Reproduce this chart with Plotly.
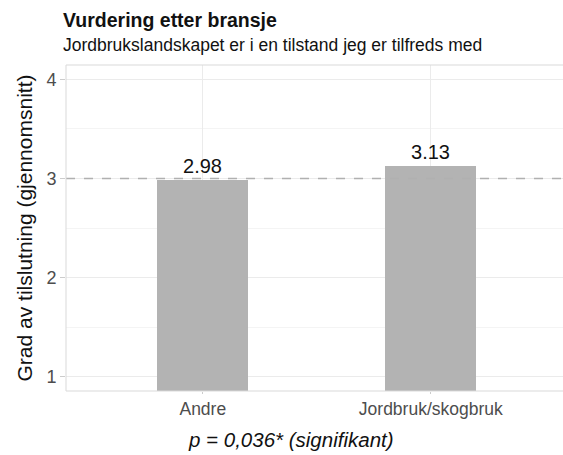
import plotly.graph_objects as go

categories = ["Andre", "Jordbruk/skogbruk"]
values = [2.98, 3.13]
labels = ["2.98", "3.13"]
reference_value = 3
title = "Vurdering etter bransje"
subtitle = "Jordbrukslandskapet er i en tilstand jeg er tilfreds med"
caption = "p = 0,036* (signifikant)"
y_title = "Grad av tilslutning (gjennomsnitt)"

FONT = "Liberation Sans, Arial, sans-serif"

fig = go.Figure()
fig.add_trace(go.Bar(
    x=[1, 2], y=values, base=0, width=0.4,
    marker=dict(color="#b3b3b3", line=dict(width=0)),
    text=labels, textposition="outside", cliponaxis=False,
    textfont=dict(family=FONT, size=20, color="#111111"),
    hoverinfo="skip",
))
fig.add_shape(type="line", xref="paper", yref="y", x0=0, x1=1,
              y0=reference_value, y1=reference_value,
              line=dict(color="#b0b0b0", width=1.5, dash="dash"))

fig.update_layout(
    width=563, height=455,
    margin=dict(l=66, r=0, t=65, b=64, autoexpand=False),
    paper_bgcolor="white", plot_bgcolor="white",
    font=dict(family=FONT, color="#4d4d4d"),
    showlegend=False,
    bargap=0,
    xaxis=dict(
        range=[0.4, 0.4 + 497 / 228], tickmode="array", tickvals=[1, 2],
        ticktext=categories, showgrid=True, gridcolor="#ebebeb", gridwidth=1,
        zeroline=False, showline=False, ticks="outside", ticklen=2,
        tickcolor="#cccccc", tickfont=dict(size=17.5, color="#4d4d4d"),
        automargin=False,
    ),
    yaxis=dict(
        range=[0.855, 4.145], tickvals=[1, 2, 3, 4], showgrid=True,
        gridcolor="#ebebeb", gridwidth=1, zeroline=False,
        minor=dict(tickvals=[1.5, 2.5, 3.5], showgrid=True, gridcolor="#f4f4f4", gridwidth=1),
        ticks="outside", ticklen=5, tickcolor="#cccccc",
        tickfont=dict(size=18, color="#4d4d4d"),
        title=dict(text=y_title, font=dict(size=21, color="#111111"), standoff=8),
        automargin=False,
    ),
    annotations=[
        dict(text="<b>" + title + "</b>", xref="paper", yref="paper", x=-0.01, y=1.138,
             xanchor="left", yanchor="middle", showarrow=False,
             font=dict(size=19.5, color="#111111")),
        dict(text=subtitle, xref="paper", yref="paper", x=-0.01, y=1.061,
             xanchor="left", yanchor="middle", showarrow=False,
             font=dict(size=17.5, color="#111111")),
        dict(text="<i>" + caption + "</i>", xref="paper", yref="paper", x=0.452, y=-0.150,
             xanchor="center", yanchor="middle", showarrow=False,
             font=dict(size=20.5, color="#111111")),
    ],
)
fig.add_shape(type="rect", xref="paper", yref="paper", x0=0, x1=1.02, y0=0, y1=1,
              line=dict(color="#d9d9d9", width=1))

fig.write_html("out.html", config={"displayModeBar": False},
               post_script="document.body.style.margin='0';document.body.style.overflow='hidden';")
